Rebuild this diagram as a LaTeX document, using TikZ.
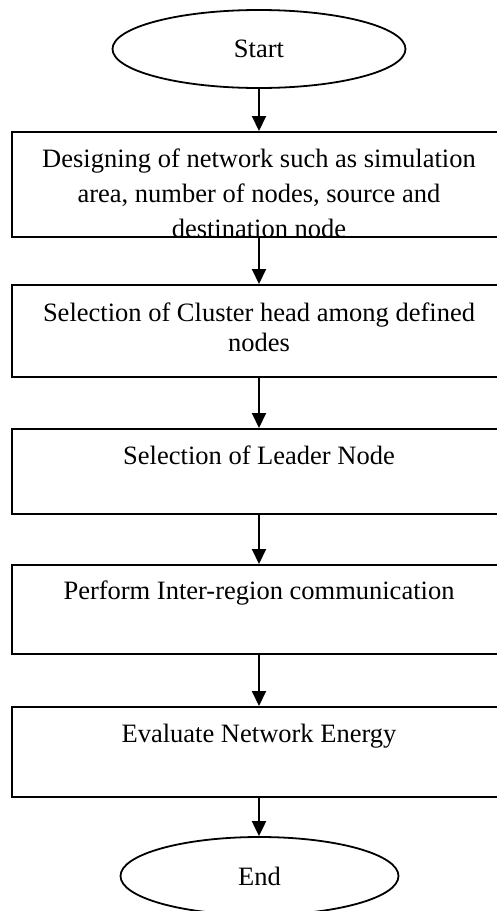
\documentclass[tikz,border=0pt]{standalone}
\usepackage{fontspec}
\setmainfont{Liberation Serif}
\usetikzlibrary{shapes.geometric,arrows.meta}
\begin{document}
\begin{tikzpicture}[x=1pt,y=1pt,
  box/.style={draw, line width=2pt, rectangle, minimum width=494pt, inner sep=0pt},
  oval/.style={draw, line width=1.8pt, ellipse, inner sep=0pt, font=\fontsize{26.5}{30}\selectfont},
  txt/.style={anchor=north, inner sep=0pt, align=center, font=\fontsize{26.5}{35}\selectfont},
  arr/.style={line width=2pt, -{Triangle[length=15pt,width=14pt]}}]
\useasboundingbox (0,0) rectangle (496,-911);
\node[oval, minimum width=293pt, minimum height=78pt] (start) at (259,-49) {Start};
\node[box, minimum height=105pt] (b1) at (259,-184.5) {};
\node[box, minimum height=92pt] (b2) at (259,-331) {};
\node[box, minimum height=85pt] (b3) at (259,-471.5) {};
\node[box, minimum height=89pt] (b4) at (259,-609.5) {};
\node[box, minimum height=90pt] (b5) at (259,-752) {};
\node[oval, minimum width=278pt, minimum height=78pt] (end) at (259.5,-876) {End};
\begin{scope}
\clip (b1.north west) rectangle (b1.south east);
\node[txt] (t1) at ([yshift=-16pt]b1.north) {\rule{0pt}{20pt}Designing of network such as simulation\\area, number of nodes, source and\\destination node};
\end{scope}
\node[txt, font=\fontsize{26.5}{30}\selectfont] (t2) at ([yshift=-17pt]b2.north) {\rule{0pt}{20pt}Selection of Cluster head among defined\\nodes};
\node[txt] (t3) at ([yshift=-16pt]b3.north) {\rule{0pt}{20pt}Selection of Leader Node};
\node[txt] (t4) at ([yshift=-15pt]b4.north) {\rule{0pt}{20pt}Perform Inter-region communication};
\node[txt] (t5) at ([yshift=-16pt]b5.north) {\rule{0pt}{20pt}Evaluate Network Energy};
\draw[arr] (start.south) -- (start.south |- b1.north);
\draw[arr] (b1.south) -- (b2.north);
\draw[arr] (b2.south) -- (b3.north);
\draw[arr] (b3.south) -- (b4.north);
\draw[arr] (b4.south) -- (b5.north);
\draw[arr] (b5.south) -- (b5.south |- end.north);
\end{tikzpicture}
\end{document}
